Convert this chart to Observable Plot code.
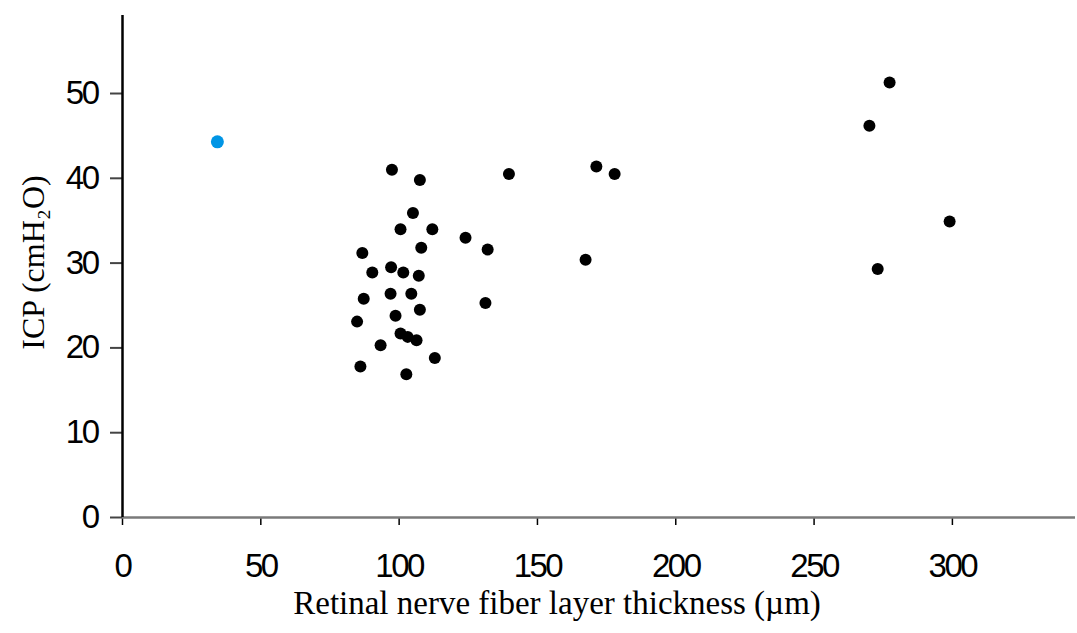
<!DOCTYPE html>
<html>
<head>
<meta charset="utf-8">
<script src="https://cdn.jsdelivr.net/npm/d3@7"></script>
<script src="https://cdn.jsdelivr.net/npm/@observablehq/plot@0.6"></script>
<style>
  html, body { margin: 0; padding: 0; background: #fff; }
  #chart svg { display: block; }
  #chart g[aria-label="x-axis tick label"] text,
  #chart g[aria-label="y-axis tick label"] text { letter-spacing: -2.5px; }
</style>
</head>
<body>
<div id="chart"></div>
<script>
// Retinal nerve fiber layer thickness (µm)
const thickness = [97.4, 107.5, 105, 100.5, 112, 124, 132, 108, 86.7, 90.3, 97.1, 101.5, 107.1, 87.2, 96.9, 104.4, 107.5, 131.2, 84.8, 98.7, 100.5, 103.1, 106.3, 93.3, 112.9, 86, 102.6, 139.7, 171.3, 177.9, 167.4, 277.3, 270, 299, 273, 34.3];
// ICP (cmH2O)
const icp = [41.0, 39.8, 35.9, 34.0, 34.0, 33.0, 31.6, 31.8, 31.2, 28.9, 29.5, 28.9, 28.5, 25.8, 26.4, 26.4, 24.5, 25.3, 23.1, 23.8, 21.7, 21.3, 20.9, 20.3, 18.8, 17.8, 16.9, 40.5, 41.4, 40.5, 30.4, 51.3, 46.2, 34.9, 29.3, 44.3];
// group: last point highlighted in blue
const group = thickness.map((_, i) => i === thickness.length - 1 ? "highlight" : "normal");

const xTicks = [0, 50, 100, 150, 200, 250, 300];
const yTicks = [0, 10, 20, 30, 40, 50];
const xTitle = "Retinal nerve fiber layer thickness (µm)";
const yTitle = "ICP (cmH₂O)";

const data = thickness.map((t, i) => ({t, icp: icp[i], g: group[i]}));

const tickFont = "'Liberation Sans', Arial, sans-serif";
const titleFont = "'Liberation Serif', 'Times New Roman', serif";

const chart = Plot.plot({
  width: 1077,
  height: 633,
  marginLeft: 122,
  marginRight: 2,
  marginTop: 15,
  marginBottom: 116,
  style: {background: "#fff", color: "#000"},
  x: {domain: [0, 344.5]},
  y: {domain: [0, 59.2]},
  color: {domain: ["normal", "highlight"], range: ["#000000", "#0095e5"]},
  marks: [
    Plot.axisX({ticks: xTicks, tickSize: 8, tickPadding: 28, label: null, fontSize: 33, fontFamily: tickFont, stroke: "#000", strokeWidth: 1.5}),
    Plot.axisY({ticks: yTicks, tickSize: 12, tickPadding: 13, label: null, fontSize: 33, fontFamily: tickFont, stroke: "#444", strokeWidth: 2}),
    Plot.ruleY([0], {stroke: "#7a7a7a", strokeWidth: 2.5}),
    Plot.ruleX([0], {stroke: "#000", strokeWidth: 2.5}),
    Plot.dot(data, Plot.filter(d => d.g === "normal", {x: "t", y: "icp", fill: "g", r: 6})),
    Plot.dot(data, Plot.filter(d => d.g === "highlight", {x: "t", y: "icp", fill: "g", r: 6.5})),
    Plot.text([xTitle], {frameAnchor: "bottom", dx: -42, dy: 96, fontSize: 33, fontFamily: titleFont, fill: "#000"}),
    Plot.text([yTitle], {frameAnchor: "left", textAnchor: "middle", rotate: -90, dx: -89, dy: -4, fontSize: 32, fontFamily: titleFont, fill: "#000"})
  ]
});
document.getElementById("chart").appendChild(chart);
</script>
</body>
</html>
